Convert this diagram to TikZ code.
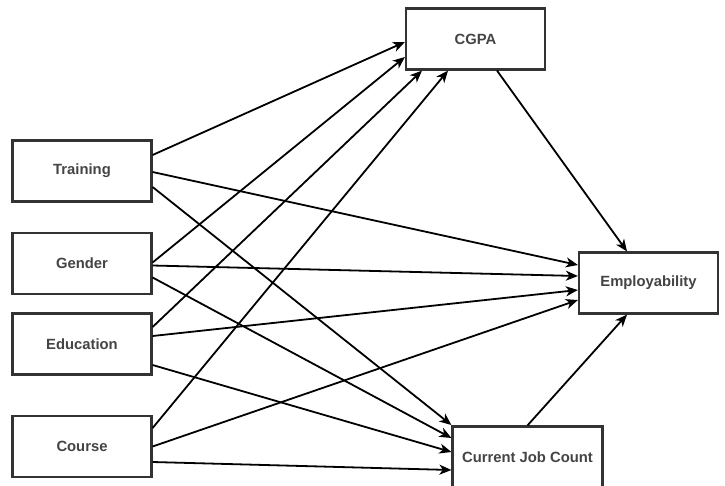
\documentclass[tikz,border=0pt]{standalone}
\usepackage{fontspec}
\setmainfont{Liberation Sans}
\usetikzlibrary{arrows.meta}
\definecolor{boxline}{HTML}{333333}
\definecolor{txt}{HTML}{444444}
\begin{document}
\begin{tikzpicture}[x=1pt,y=-1pt,
  box/.style={draw=boxline,line width=2.2pt,fill=white,minimum width=139pt,minimum height=61pt,inner sep=0pt,text=txt,font=\bfseries\fontsize{14.8}{17}\selectfont},
  conn/.style={line width=1.8pt,-{Stealth[length=12pt,width=10pt,inset=3.5pt]}}]
\useasboundingbox (0,0) rectangle (725,485);
\clip (0,0) rectangle (725,485);
\fill[white] (0,0) rectangle (725,485);
\node[box] (tr) at (82,171) {Training};
\node[box] (ge) at (82,263.5) {Gender};
\node[box] (ed) at (82,344) {Education};
\node[box] (co) at (82,446.5) {Course};
\node[box] (cg) at (475.5,39) {CGPA};
\node[box] (em) at (648.5,283) {Employability};
\node[box,minimum width=150pt] (cj) at (527.5,457) {Current Job Count};
% to CGPA
\draw[conn] ([yshift=16pt]tr.east) -- ([yshift=-3pt]cg.west);
\draw[conn] ([yshift=1pt]ge.east) -- ([yshift=-18pt]cg.west);
\draw[conn] ([yshift=17pt]ed.east) -- ([xshift=-53.5pt]cg.south);
\draw[conn] ([yshift=18.5pt]co.east) -- ([xshift=-27.5pt]cg.south);
% to Employability
\draw[conn] ([yshift=-1pt]tr.east) -- ([yshift=18pt]em.west);
\draw[conn] ([yshift=-2pt]ge.east) -- ([yshift=7pt]em.west);
\draw[conn] ([yshift=8pt]ed.east) -- ([yshift=-7pt]em.west);
\draw[conn] ([yshift=0pt]co.east) -- ([yshift=-17pt]em.west);
% to Current Job Count
\draw[conn] ([yshift=-16pt]tr.east) -- ([yshift=32pt]cj.west);
\draw[conn] ([yshift=-14pt]ge.east) -- ([yshift=19pt]cj.west);
\draw[conn] ([yshift=-21pt]ed.east) -- ([yshift=5pt]cj.west);
\draw[conn] ([yshift=-15.5pt]co.east) -- ([yshift=-13pt]cj.west);
% mediators
\draw[conn] ([xshift=21.5pt]cg.south) -- ([xshift=-21.5pt]em.north);
\draw[conn] (cj.north) -- ([xshift=-21.5pt]em.south);
\end{tikzpicture}
\end{document}
